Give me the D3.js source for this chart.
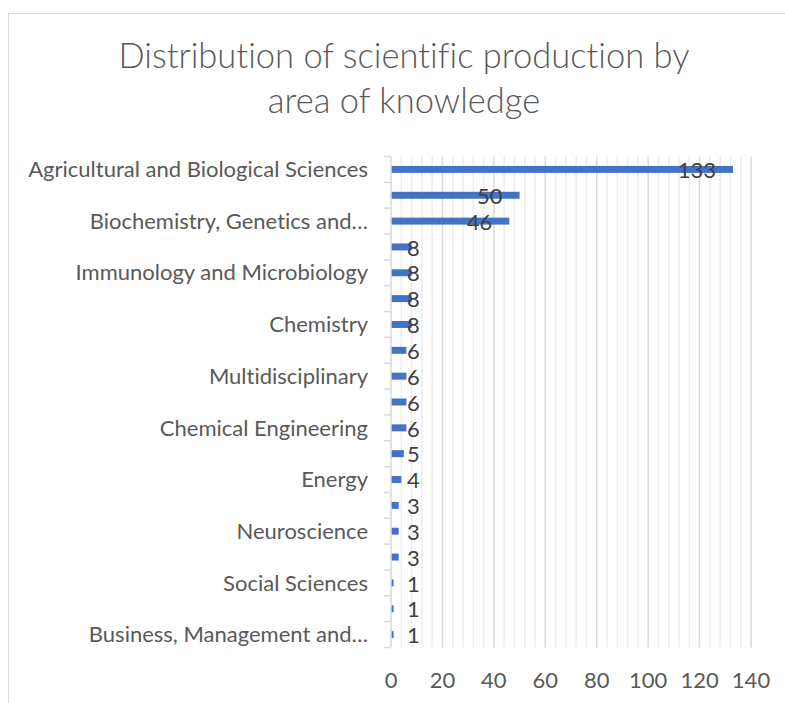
<!DOCTYPE html>
<meta charset="utf-8">
<style>
body { margin: 0; background: #fff; }
text { font-family: Lato, "Open Sans", sans-serif; font-variant-ligatures: none; font-feature-settings: "liga" 0, "clig" 0; }
</style>

<svg width="785" height="703"></svg>

<script src="https://d3js.org/d3.v7.min.js"></script>
<script>

// categories top to bottom (only every other one gets a label, like excel did)
var categories = [
  "Agricultural and Biological Sciences",
  "Environmental Science",
  "Biochemistry, Genetics and…",
  "Medicine",
  "Immunology and Microbiology",
  "Engineering",
  "Chemistry",
  "Pharmacology, Toxicology and…",
  "Multidisciplinary",
  "Earth and Planetary Sciences",
  "Chemical Engineering",
  "Veterinary",
  "Energy",
  "Materials Science",
  "Neuroscience",
  "Nursing",
  "Social Sciences",
  "Health Professions",
  "Business, Management and…"
];
var values = [133, 50, 46, 8, 8, 8, 8, 6, 6, 6, 6, 5, 4, 3, 3, 3, 1, 1, 1];
var xTicks = [0, 20, 40, 60, 80, 100, 120, 140];
var titleLines = ["Distribution of scientific production by", "area of knowledge"];

var svg = d3.select("svg"),
  width = +svg.attr("width"),
  height = +svg.attr("height");

var x = d3.scaleLinear().domain([0, 140]).range([391, 751]);
var y = d3.scaleBand().domain(categories).range([156.5, 647.5])
  .paddingInner(0.73).paddingOuter(0.365);

function stext(g, tx, ty) {
  return g.append("text")
    .attr("transform", "translate(" + tx + "," + ty + ")");
}

// chart border
svg.append("rect")
  .attr("x", 8.5).attr("y", 13.5)
  .attr("width", 820).attr("height", 720)
  .attr("fill", "none").attr("stroke", "#d9d9d9");

// title
titleLines.forEach(function(t, i) {
  stext(svg, 404, 68 + i * 45)
    .attr("text-anchor", "middle")
    .attr("font-size", 34.5)
    .attr("font-weight", 300)
    .attr("fill", "#595959")
    .text(t);
});

// gridlines, minor every 4 and major every 20
var grid = svg.append("g").attr("class", "grid");
grid.selectAll("line.minor")
  .data(d3.range(4, 141, 4).filter(function(d) { return d % 20 != 0; }))
  .enter().append("line")
  .attr("class", "minor")
  .attr("x1", function(d) { return x(d); })
  .attr("x2", function(d) { return x(d); })
  .attr("y1", y.range()[0]).attr("y2", y.range()[1])
  .attr("stroke", "#ececec").attr("stroke-width", 1.5);
grid.selectAll("line.major")
  .data(xTicks.slice(1))
  .enter().append("line")
  .attr("class", "major")
  .attr("x1", function(d) { return x(d); })
  .attr("x2", function(d) { return x(d); })
  .attr("y1", y.range()[0]).attr("y2", y.range()[1])
  .attr("stroke", "#d9d9d9").attr("stroke-width", 1.5);

// bars
svg.append("g").selectAll("rect")
  .data(values)
  .enter().append("rect")
  .attr("x", x(0))
  .attr("y", function(d, i) { return y(categories[i]); })
  .attr("width", function(d) { return x(d) - x(0); })
  .attr("height", y.bandwidth())
  .attr("fill", "#4472c4");

// category axis line + ticks at band edges
var step = y.step();
svg.append("line")
  .attr("x1", x(0)).attr("x2", x(0))
  .attr("y1", y.range()[0]).attr("y2", y.range()[1])
  .attr("stroke", "#d9d9d9").attr("stroke-width", 1.5);
svg.append("g").selectAll("line")
  .data(d3.range(categories.length + 1))
  .enter().append("line")
  .attr("x1", x(0) - 7).attr("x2", x(0))
  .attr("y1", function(i) { return y.range()[0] + i * step; })
  .attr("y2", function(i) { return y.range()[0] + i * step; })
  .attr("stroke", "#d9d9d9").attr("stroke-width", 1.5);

// category labels (every other one)
var catG = svg.append("g");
categories.forEach(function(c, i) {
  if (i % 2 != 0) return;
  stext(catG, 368, y(c) + y.bandwidth() / 2)
    .attr("text-anchor", "end")
    .attr("dy", "0.35em")
    .attr("font-size", 22)
    .attr("fill", "#595959")
    .text(c);
});

// data labels
var labG = svg.append("g");
values.forEach(function(v, i) {
  var big = v > 20;
  stext(labG, big ? x(v) - 17 : x(0) + 16, y(categories[i]) + y.bandwidth() / 2 + 1)
    .attr("text-anchor", big ? "end" : "start")
    .attr("dy", "0.35em")
    .attr("font-size", 22)
    .attr("fill", "#404040")
    .text(v);
});

// value axis labels
var tickG = svg.append("g");
xTicks.forEach(function(t) {
  stext(tickG, x(t), 688)
    .attr("text-anchor", "middle")
    .attr("font-size", 22)
    .attr("fill", "#595959")
    .text(t);
});

</script>
